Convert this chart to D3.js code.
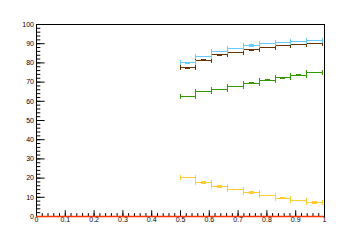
<!DOCTYPE html>
<html>
<head>
<meta charset="utf-8">
<script src="https://cdn.jsdelivr.net/npm/d3@7"></script>
<style>
  body { margin: 0; background: #fff; }
  svg { display: block; }
</style>
</head>
<body>
<div id="chart"></div>
<script>
// bin edges shared by the four histograms
var binEdges = [0.5, 0.555, 0.61, 0.665, 0.72, 0.775, 0.83, 0.885, 0.94, 0.995];

var blueValues   = [79.8, 83.3, 85.8, 87.3, 88.8, 89.9, 90.5, 91.0, 91.5];
var brownValues  = [77.1, 81.2, 83.9, 85.4, 86.5, 87.8, 88.9, 89.4, 89.9];
var greenValues  = [62.3, 64.6, 66.1, 67.5, 69.1, 70.7, 71.9, 73.3, 74.5];
var yellowValues = [20.2, 17.5, 15.4, 13.9, 12.3, 10.8, 9.2, 8.2, 7.1];

// small vertical errors (only visible on some bins)
var blueErrors   = [0.6, 0, 0, 0, 0.6, 0, 0, 0, 0];
var brownErrors  = [0.6, 0.6, 0.6, 0, 0.6, 0, 0, 0, 0];
var greenErrors  = [0, 0, 0, 0, 0.6, 0.6, 0.6, 0.6, 0];
var yellowErrors = [0, 0.6, 0.6, 0, 0.6, 0, 0.6, 0, 0.6];

// empty histogram over the full range
var redEdges  = [0, 1];
var redValues = [0];

var xTicks = [0, 0.1, 0.2, 0.3, 0.4, 0.5, 0.6, 0.7, 0.8, 0.9, 1];
var xTickLabels = ["0", "0.1", "0.2", "0.3", "0.4", "0.5", "0.6", "0.7", "0.8", "0.9", "1"];
var yTicks = [0, 10, 20, 30, 40, 50, 60, 70, 80, 90, 100];
var yTickLabels = ["0", "10", "20", "30", "40", "50", "60", "70", "80", "90", "100"];

var W = 360, H = 240;
var margin = { top: 24, right: 36, bottom: 24, left: 36 };
var width = W - margin.left - margin.right;
var height = H - margin.top - margin.bottom;

var svg = d3.select("#chart").append("svg")
    .attr("width", W)
    .attr("height", H)
    .style("font-family", "'Liberation Sans', Arial, sans-serif");

var g = svg.append("g")
    .attr("transform", `translate(${margin.left}, ${margin.top})`);

var x = d3.scaleLinear().domain([0, 1]).range([0, width]);
var y = d3.scaleLinear().domain([0, 100]).range([height, 0]);

// frame
g.append("rect")
    .attr("x", 0.5).attr("y", 0.5)
    .attr("width", width).attr("height", height)
    .attr("fill", "none")
    .attr("stroke", "#000")
    .attr("stroke-width", 1);

// minor ticks
g.append("g")
    .attr("transform", `translate(0, ${height})`)
    .call(d3.axisBottom(x).tickValues(d3.range(0, 101, 2).map(d => d / 100)).tickSizeInner(-2.9).tickSizeOuter(0).tickFormat(""))
    .call(a => a.select(".domain").remove());
g.append("g")
    .call(d3.axisLeft(y).tickValues(d3.range(0, 101, 2)).tickSizeInner(-4.3).tickSizeOuter(0).tickFormat(""))
    .call(a => a.select(".domain").remove());

// x axis
var xAxis = g.append("g")
    .attr("transform", `translate(0, ${height})`)
    .call(d3.axisBottom(x).tickValues(xTicks).tickSizeInner(-5.8).tickSizeOuter(0).tickPadding(1)
        .tickFormat((d, i) => xTickLabels[i]));
xAxis.selectAll("text").style("font-size", "7px").attr("fill", "#000");

// y axis
var yAxis = g.append("g")
    .call(d3.axisLeft(y).tickValues(yTicks).tickSizeInner(-8.6).tickSizeOuter(0).tickPadding(2)
        .tickFormat((d, i) => yTickLabels[i]));
yAxis.selectAll("text").style("font-size", "7px").attr("fill", "#000");

svg.selectAll(".tick line").attr("stroke", "#000");

function drawHist(edges, values, errors, color) {
    var bins = values.map((v, i) => ({ x0: edges[i], x1: edges[i + 1], v: v, e: errors ? errors[i] : 0 }));
    var hg = g.append("g").attr("stroke", color).attr("stroke-width", 1).attr("shape-rendering", "crispEdges");

    // horizontal bar for each bin
    hg.selectAll(".h").data(bins).enter().append("line")
        .attr("x1", d => x(d.x0)).attr("x2", d => x(d.x1))
        .attr("y1", d => y(d.v)).attr("y2", d => y(d.v));

    if (!errors) return;

    // end caps at bin edges
    hg.selectAll(".l").data(bins).enter().append("line")
        .attr("x1", d => x(d.x0)).attr("x2", d => x(d.x0))
        .attr("y1", d => y(d.v) - 2.5).attr("y2", d => y(d.v) + 2.5);
    hg.selectAll(".r").data(bins).enter().append("line")
        .attr("x1", d => x(d.x1)).attr("x2", d => x(d.x1))
        .attr("y1", d => y(d.v) - 2.5).attr("y2", d => y(d.v) + 2.5);

    // vertical error marks
    hg.selectAll(".e").data(bins.filter(d => d.e > 0)).enter().append("rect")
        .attr("x", d => x((d.x0 + d.x1) / 2) - 2.5)
        .attr("y", d => y(d.v + d.e))
        .attr("width", 5)
        .attr("height", d => y(d.v - d.e) - y(d.v + d.e))
        .attr("fill", color)
        .attr("stroke", "none");
}

drawHist(binEdges, yellowValues, yellowErrors, "#ffcc33");
drawHist(binEdges, greenValues, greenErrors, "#339900");
drawHist(binEdges, brownValues, brownErrors, "#663300");
drawHist(binEdges, blueValues, blueErrors, "#66ccff");

// red empty histogram on the x axis
g.append("g").selectAll("line").data(redValues).enter().append("line")
    .attr("x1", (d, i) => x(redEdges[i])).attr("x2", (d, i) => x(redEdges[i + 1]))
    .attr("y1", d => y(d) + 0.5).attr("y2", d => y(d) + 0.5)
    .attr("stroke", "#ff3300")
    .attr("stroke-width", 1.5);
</script>
</body>
</html>
